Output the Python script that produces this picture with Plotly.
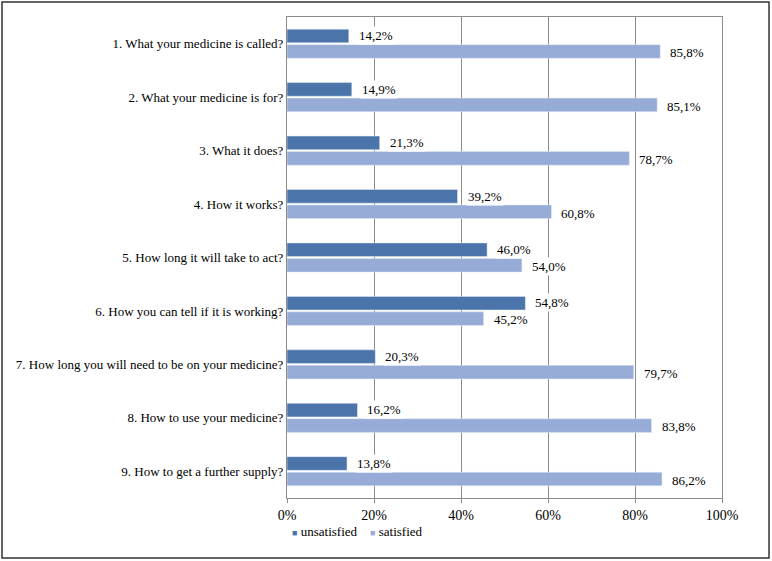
import plotly.graph_objects as go

questions = [
    "1. What your medicine is called?",
    "2. What your medicine is for?",
    "3. What it does?",
    "4. How it works?",
    "5. How long it will take to act?",
    "6. How you can tell if it is working?",
    "7. How long you will need to be on your medicine?",
    "8. How to use your medicine?",
    "9. How to get a further supply?",
]
unsatisfied = [14.2, 14.9, 21.3, 39.2, 46.0, 54.8, 20.3, 16.2, 13.8]
satisfied = [85.8, 85.1, 78.7, 60.8, 54.0, 45.2, 79.7, 83.8, 86.2]
x_ticks = [0, 20, 40, 60, 80, 100]

dark = "rgb(74,116,170)"
light = "rgb(150,172,214)"
font_family = "Liberation Serif"

W, H = 772, 561
ml, mr, mt, mb = 287, 50, 17, 63
pw, ph = W - ml - mr, H - mt - mb


def fmt(v):
    return f"{v:.1f}".replace(".", ",") + "%"


fig = go.Figure()
fig.add_trace(go.Bar(y=questions, x=unsatisfied, orientation="h",
                     name="unsatisfied", marker=dict(color=dark)))
fig.add_trace(go.Bar(y=questions, x=satisfied, orientation="h",
                     name="satisfied", marker=dict(color=light)))

# value labels with white boxes (they hide the gridlines like the original)
for q, u, s in zip(questions, unsatisfied, satisfied):
    for v, shift in ((u, 8), (s, -9)):
        fig.add_annotation(x=v, y=q, text=fmt(v), showarrow=False,
                           xanchor="left", xshift=8, yshift=shift,
                           bgcolor="white", borderpad=1,
                           font=dict(family=font_family, size=13, color="black"))

# compact legend like the original
sq = "<span style='color:{};font-size:9px'>■</span> "
fig.add_annotation(xref="paper", yref="paper", x=(290 - ml) / pw, y=(mt + ph - 531) / ph,
                   xanchor="left", yanchor="middle", showarrow=False,
                   text=sq.format(dark) + "unsatisfied    " + sq.format(light) + "satisfied",
                   font=dict(family=font_family, size=13, color="black"))

# outer frame around the whole picture
fig.add_shape(type="rect", xref="paper", yref="paper",
              x0=(2 - ml) / pw, x1=(769 - ml) / pw,
              y0=(mt + ph - 558) / ph, y1=(mt + ph - 2) / ph,
              line=dict(color="#333333", width=1.5))

fig.update_layout(
    width=W, height=H,
    margin=dict(l=ml, r=mr, t=mt, b=mb),
    paper_bgcolor="white", plot_bgcolor="white",
    barmode="group", bargap=0.42, bargroupgap=0.12,
    font=dict(family=font_family, size=13, color="black"),
    showlegend=False,
    xaxis=dict(range=[0, 100], tickvals=x_ticks,
               ticktext=[f"{t}%" for t in x_ticks],
               showgrid=True, gridcolor="#8c8c8c", gridwidth=1,
               ticks="outside", ticklen=4, tickcolor="#8c8c8c",
               showline=True, linecolor="#8c8c8c", mirror=True,
               zeroline=False, tickfont=dict(size=14), automargin=False),
    yaxis=dict(autorange="reversed", showline=True, linecolor="#8c8c8c",
               mirror=True, ticks="", tickfont=dict(size=13), automargin=False),
)

fig.write_html("out.html", config={"displayModeBar": False},
               post_script="document.body.style.margin='0';")
